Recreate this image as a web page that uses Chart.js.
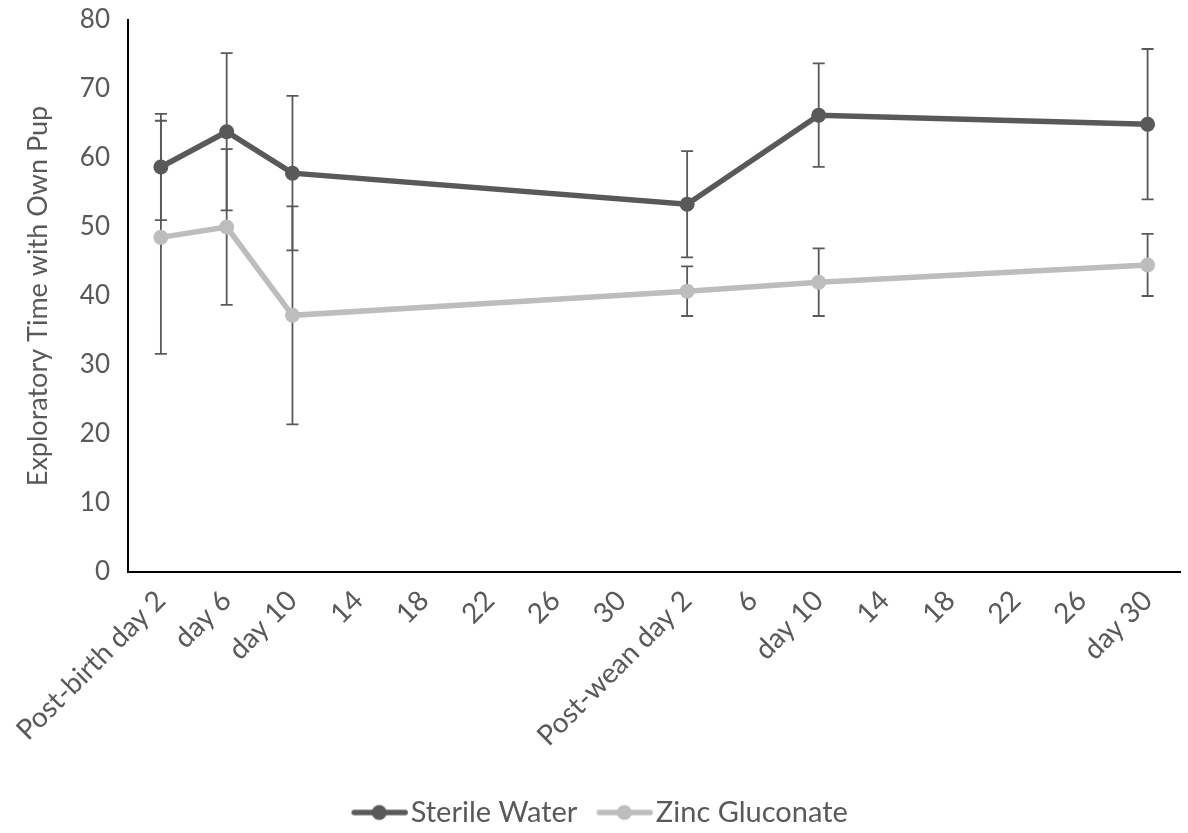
<!DOCTYPE html>
<html>
<head>
<meta charset="utf-8">
<script src="https://cdn.jsdelivr.net/npm/chart.js@4"></script>
<style>
  html, body { margin: 0; padding: 0; background: #fff; }
  #wrap { width: 1188px; height: 833px; }
</style>
</head>
<body>
<div id="wrap"><canvas id="chart" width="1188" height="833"></canvas></div>
<script>
// categorias del eje x
const days = ['Post-birth day 2', 'day 6', 'day 10', '14', '18', '22', '26', '30',
  'Post-wean day 2', '6', 'day 10', '14', '18', '22', '26', 'day 30'];

// valores medios (null = sin dato)
const sterileWater = [58.7, 63.8, 57.8, null, null, null, null, null, 53.3, null, 66.2, null, null, null, null, 64.9];
const zincGluconate = [48.5, 50.0, 37.2, null, null, null, null, null, 40.7, null, 42.0, null, null, null, null, 44.5];

// barras de error (+/-)
const sterileErr = [7.7, 11.4, 11.2, null, null, null, null, null, 7.7, null, 7.5, null, null, null, null, 10.9];
const zincErr = [16.9, 11.3, 15.8, null, null, null, null, null, 3.6, null, 4.9, null, null, null, null, 4.5];

const yTicks = [0, 10, 20, 30, 40, 50, 60, 70, 80];

const darkGrey = '#595959';
const lightGrey = '#bdbdbd';
const fontFamily = 'Lato, "Open Sans", sans-serif';

// simbolo de leyenda: linea con punto (desplazado a la derecha)
function legendSymbol(color) {
  const c = document.createElement('canvas');
  c.width = 80;
  c.height = 18;
  const g = c.getContext('2d');
  g.strokeStyle = color;
  g.lineWidth = 5.5;
  g.lineCap = 'round';
  g.beginPath();
  g.moveTo(26, 9);
  g.lineTo(77, 9);
  g.stroke();
  g.fillStyle = color;
  g.beginPath();
  g.arc(51, 9, 7.5, 0, Math.PI * 2);
  g.fill();
  return c;
}

// plugin para dibujar las barras de error
const errorBars = {
  id: 'errorBars',
  beforeDatasetsDraw(chart) {
    const ctx = chart.ctx;
    const x = chart.scales.x;
    const y = chart.scales.y;
    const sets = [[sterileWater, sterileErr], [zincGluconate, zincErr]];
    ctx.save();
    ctx.strokeStyle = darkGrey;
    ctx.lineWidth = 1.8;
    sets.forEach(([vals, errs]) => {
      vals.forEach((v, i) => {
        if (v === null || errs[i] === null) return;
        const px = x.getPixelForValue(i);
        const top = y.getPixelForValue(v + errs[i]);
        const bot = y.getPixelForValue(v - errs[i]);
        ctx.beginPath();
        ctx.moveTo(px, top);
        ctx.lineTo(px, bot);
        ctx.moveTo(px - 6, top);
        ctx.lineTo(px + 6, top);
        ctx.moveTo(px - 6, bot);
        ctx.lineTo(px + 6, bot);
        ctx.stroke();
      });
    });
    ctx.restore();
  }
};

const chart = new Chart(document.getElementById('chart'), {
  type: 'line',
  data: {
    labels: days,
    datasets: [{
      label: 'Sterile Water',
      data: sterileWater,
      borderColor: darkGrey,
      backgroundColor: darkGrey,
      borderWidth: 5.5,
      pointRadius: 7.5,
      pointHoverRadius: 7.5,
      pointBorderWidth: 0,
      spanGaps: true,
      tension: 0
    }, {
      label: 'Zinc Gluconate',
      data: zincGluconate,
      borderColor: lightGrey,
      backgroundColor: lightGrey,
      borderWidth: 5.5,
      pointRadius: 7.5,
      pointHoverRadius: 7.5,
      pointBorderWidth: 0,
      spanGaps: true,
      tension: 0
    }]
  },
  options: {
    responsive: false,
    animation: false,
    layout: { padding: { top: 0, right: 0, left: 0, bottom: -4 } },
    plugins: {
      tooltip: { enabled: false },
      legend: {
        position: 'bottom',
        labels: {
          usePointStyle: true,
          pointStyleWidth: 56,
          boxHeight: 16,
          padding: 8,
          color: darkGrey,
          font: { family: fontFamily, size: 29 },
          generateLabels(chart) {
            const items = Chart.defaults.plugins.legend.labels.generateLabels(chart);
            items.forEach((it, i) => {
              it.pointStyle = legendSymbol(i === 0 ? darkGrey : lightGrey);
            });
            return items;
          }
        }
      },
    },
    scales: {
      x: {
        offset: true,
        afterFit(scale) { scale.height = 218; },
        grid: { display: false, drawTicks: false },
        border: { color: '#000', width: 2 },
        ticks: {
          autoSkip: false,
          maxRotation: 45,
          minRotation: 45,
          padding: 12,
          color: darkGrey,
          font: { family: fontFamily, size: 28 }
        }
      },
      y: {
        min: 0,
        max: 80,
        afterBuildTicks(scale) {
          scale.ticks = yTicks.map(v => ({ value: v }));
        },
        afterFit(scale) {
          scale.width = 128;
          scale.paddingTop = 20;
          scale.paddingBottom = 10;
        },
        grid: { display: false, drawTicks: false },
        border: { color: '#000', width: 2 },
        ticks: {
          padding: 18,
          color: darkGrey,
          font: { family: fontFamily, size: 26 }
        },
        title: {
          display: true,
          text: 'Exploratory Time with Own Pup',
          color: darkGrey,
          font: { family: fontFamily, size: 27 },
          padding: { top: 22, bottom: 4 }
        }
      }
    }
  },
  plugins: [errorBars]
});
</script>
</body>
</html>
